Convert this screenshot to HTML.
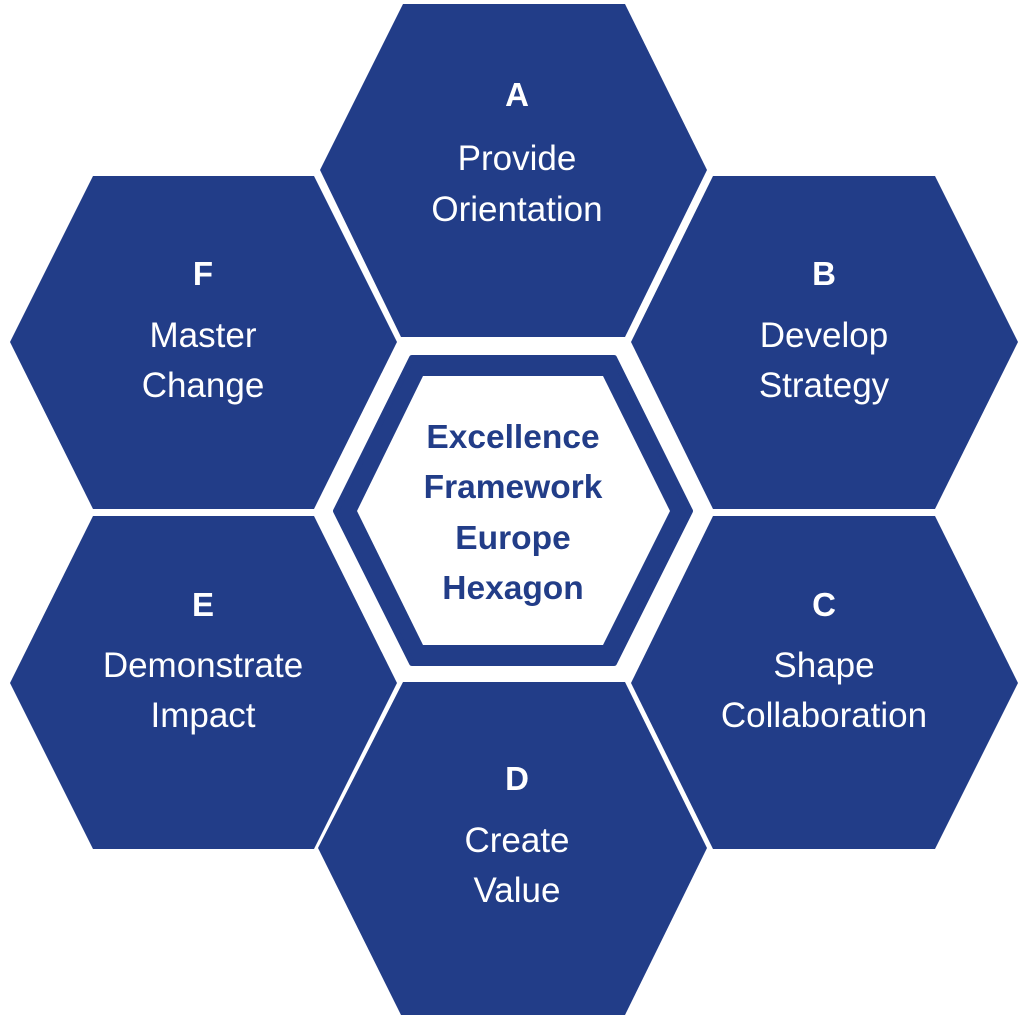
<!DOCTYPE html>
<html><head><meta charset="utf-8"><style>
html,body{margin:0;padding:0;background:#fff;}
svg{display:block;}
text{font-family:"Liberation Sans",sans-serif;text-anchor:middle;}
.w{fill:#fff;font-size:35px;}
.l{fill:#fff;font-size:33px;font-weight:bold;}
.c{fill:#223d88;font-size:33.5px;font-weight:bold;}
</style></head><body>
<svg width="1024" height="1021" viewBox="0 0 1024 1021">
<g fill="#223d88">
<polygon points="403,4 625,4 707,170 625,337 401,337 320,170"/>
<polygon points="93,176 314,176 397,342 314,509 93,509 10,342"/>
<polygon points="713,176 935,176 1018,342 935,509 713,509 631,342"/>
<polygon points="93,516 314,516 397,683 314,849 93,849 10,683"/>
<polygon points="713,516 935,516 1018,683 935,849 713,849 631,683"/>
<polygon points="403,682 625,682 707,848 625,1015 401,1015 318,848"/>
<polygon points="412,358 614,358 690,511 614,663 412,663 336,511" stroke="#223d88" stroke-width="6" stroke-linejoin="round"/>
</g>
<polygon points="423,376 603,376 670,511 603,645 423,645 357,511" fill="#fff"/>
<text class="l" x="517" y="106">A</text>
<text class="w" x="517" y="170">Provide</text>
<text class="w" x="517" y="221">Orientation</text>
<text class="l" x="203" y="285">F</text>
<text class="w" x="203" y="347">Master</text>
<text class="w" x="203" y="397">Change</text>
<text class="l" x="824" y="285">B</text>
<text class="w" x="824" y="347">Develop</text>
<text class="w" x="824" y="397">Strategy</text>
<text class="l" x="203" y="616">E</text>
<text class="w" x="203" y="677">Demonstrate</text>
<text class="w" x="203" y="727">Impact</text>
<text class="l" x="824" y="616">C</text>
<text class="w" x="824" y="677">Shape</text>
<text class="w" x="824" y="727">Collaboration</text>
<text class="l" x="517" y="790">D</text>
<text class="w" x="517" y="852">Create</text>
<text class="w" x="517" y="902">Value</text>
<text class="c" x="513" y="448">Excellence</text>
<text class="c" x="513" y="498">Framework</text>
<text class="c" x="513" y="549">Europe</text>
<text class="c" x="513" y="599">Hexagon</text>
</svg>
</body></html>
